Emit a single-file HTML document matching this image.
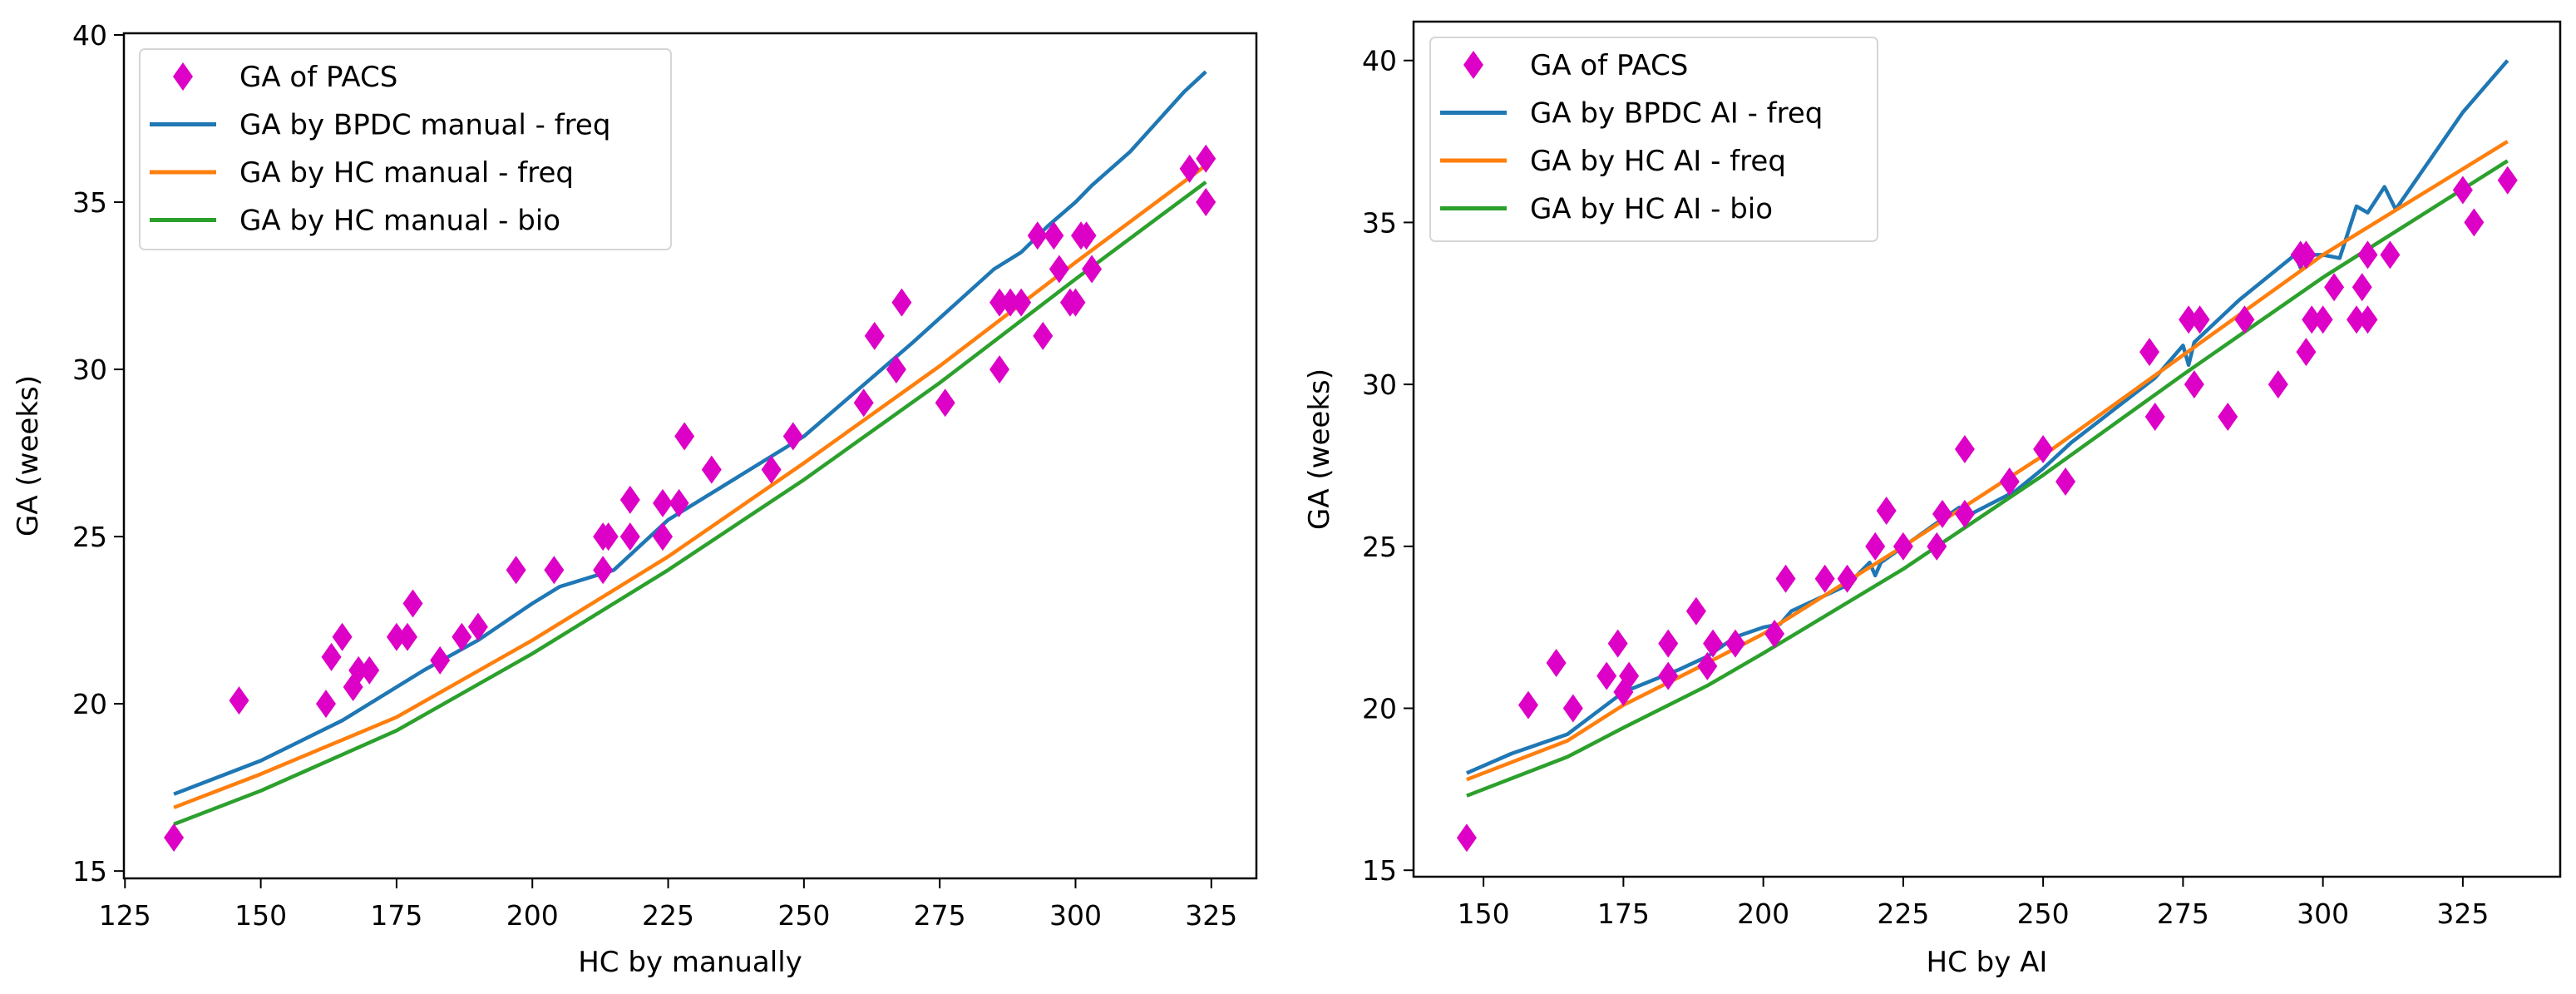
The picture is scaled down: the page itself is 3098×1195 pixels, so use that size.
<!DOCTYPE html>
<html><head><meta charset="utf-8"><style>
html,body{margin:0;padding:0;background:#fff}
svg{display:block}
text{font-family:"DejaVu Sans","Liberation Sans",sans-serif;fill:#000}
</style></head><body>
<svg id="chart" width="3098" height="1195" viewBox="0 0 3098 1195" xmlns="http://www.w3.org/2000/svg"></svg>
<script>
// ---- Left panel data ----
const leftPtsX = [134,146,162,163,165,167,168,170,175,177,178,183,187,190,197,204,213,214,213,218,218,224,224,227,228,233,244,248,261,263,267,268,276,286,286,288,290,293,294,296,297,299,300,301,302,303,321,324,324];
const leftPtsY = [16,20.1,20,21.4,22,20.5,21,21,22,22,23,21.3,22,22.3,24,24,25,25,24,26.1,25,26,25,26,28,27,27,28,29,31,30,32,29,30,32,32,32,34,31,34,33,32,32,34,34,33,36,36.3,35];
const leftBlueX = [134,150,165,180,190,200,205,215,225,250,270,285,290,295,300,303,310,320,324];
const leftBlueY = [17.3,18.3,19.5,21,21.9,23,23.5,24,25.5,28,30.8,33,33.5,34.3,35,35.5,36.5,38.3,38.9];
const leftOrangeX = [134,150,175,200,225,250,275,300,324];
const leftOrangeY = [16.9,17.9,19.6,21.9,24.4,27.2,30.1,33.2,36.1];
const leftGreenX = [134,150,175,200,225,250,275,300,324];
const leftGreenY = [16.4,17.4,19.2,21.5,24,26.7,29.6,32.7,35.6];
const leftXTicks = [125,150,175,200,225,250,275,300,325];
const yTicks = [15,20,25,30,35,40];
// ---- Right panel data ----
const rightPtsX = [147,158,163,166,172,174,175,176,183,183,188,190,191,195,202,204,211,215,220,222,225,231,232,236,236,244,250,254,269,270,276,277,278,283,286,292,296,297,297,298,300,302,306,307,308,308,312,325,327,333];
const rightPtsY = [16,20.1,21.4,20,21,22,20.5,21,22,21,23,21.3,22,22,22.3,24,24,24,25,26.1,25,25,26,26,28,27,28,27,31,29,32,30,32,29,32,30,34,31,34,32,32,33,32,33,34,32,34,36,35,36.3];
const rightBlueX = [147,155,165,175,185,190,195,200,203,205,215,219,220,221,230,235,236,245,250,255,270,275,276,277,285,295,296,297,300,303,306,308,311,313,325,333];
const rightBlueY = [18,18.6,19.2,20.5,21.2,21.6,22.2,22.5,22.6,23,23.8,24.5,24.1,24.5,25.6,26.2,25.9,26.7,27.4,28.2,30.2,31.2,30.6,31.3,32.6,34,33.6,34,34,33.9,35.5,35.3,36.1,35.4,38.4,40];
const rightOrangeX = [147,165,175,190,200,225,250,275,300,333];
const rightOrangeY = [17.8,19.0,20.1,21.4,22.3,25,27.8,30.9,34,37.5];
const rightGreenX = [147,165,175,190,200,225,250,275,300,333];
const rightGreenY = [17.3,18.5,19.4,20.7,21.7,24.3,27.2,30.3,33.3,36.9];
const rightXTicks = [150,175,200,225,250,275,300,325];

const NS = "http://www.w3.org/2000/svg";
const svg = document.getElementById('chart');
function mk(tag, attrs, parent){const e=document.createElementNS(NS,tag);for(const k in attrs)e.setAttribute(k,attrs[k]);(parent||svg).appendChild(e);return e;}

function panel(cfg){
  const g = mk('g',{});
  
  
  const sx = v => cfg.L + (v - cfg.xmin)/(cfg.xmax - cfg.xmin)*(cfg.R - cfg.L);
  const sy = v => cfg.B - (v - cfg.ymin)/(cfg.ymax - cfg.ymin)*(cfg.B - cfg.T);
  const series = [[cfg.bx,cfg.by,'#1f77b4','blue-line'],[cfg.ox,cfg.oy,'#ff7f0e','orange-line'],[cfg.gx,cfg.gy,'#2ca02c','green-line']];
  series.forEach(s=>{
    const d = s[0].map((x,i)=>(i?'L':'M')+sx(x).toFixed(1)+' '+sy(s[1][i]).toFixed(1)).join(' ');
    const p = mk('path',{d:d,fill:'none',stroke:s[2],'stroke-width':4.5,'stroke-linejoin':'round'},g);
    
    
  });
  cfg.px.forEach((x,i)=>{
    const cx=sx(x), cy=sy(cfg.py[i]);
    const p = mk('path',{d:`M${cx} ${cy-17} L${cx+12} ${cy} L${cx} ${cy+17} L${cx-12} ${cy} Z`,fill:'#dd00c6'},g);
    
    
  });
  const fr = mk('rect',{x:cfg.L,y:cfg.T,width:cfg.R-cfg.L,height:cfg.B-cfg.T,fill:'none',stroke:'#000','stroke-width':2.5},g);
  
  
  cfg.xt.forEach(v=>{
    const x=sx(v);
    mk('line',{x1:x,y1:cfg.B,x2:x,y2:cfg.B+12,stroke:'#000','stroke-width':2},g);
    const t = mk('text',{x:x,y:cfg.B+56,'text-anchor':'middle','font-size':33},g);
    t.textContent=v;
    
    
  });
  yTicks.forEach(v=>{
    const y=sy(v);
    mk('line',{x1:cfg.L-12,y1:y,x2:cfg.L,y2:y,stroke:'#000','stroke-width':2},g);
    const t = mk('text',{x:cfg.L-20,y:y+12,'text-anchor':'end','font-size':33},g);
    t.textContent=v;
    
    
  });
  const xl = mk('text',{x:(cfg.L+cfg.R)/2,y:1168,'text-anchor':'middle','font-size':34},g);
  xl.textContent = cfg.xlabel;
  
  
  const yc=(cfg.T+cfg.B)/2;
  const yl = mk('text',{x:cfg.ylx,y:yc,'text-anchor':'middle','font-size':34,transform:`rotate(-90 ${cfg.ylx} ${yc})`},g);
  yl.textContent = 'GA (weeks)';
  
  
  const lg = mk('g',{},g);
  
  
  mk('rect',{x:cfg.lgx,y:cfg.lgy,width:cfg.lgw,height:cfg.lgh,rx:6,fill:'#fff','fill-opacity':0.8,stroke:'#d6d6d6','stroke-width':2},lg);
  cfg.labels.forEach((lab,i)=>{
    const cy = cfg.lgy + 33 + i*57.5;
    const hx = cfg.lgx + 12;
    if(i===0){
      const cx=hx+40;
      mk('path',{d:`M${cx} ${cy-17} L${cx+12} ${cy} L${cx} ${cy+17} L${cx-12} ${cy} Z`,fill:'#dd00c6'},lg);
    } else {
      mk('line',{x1:hx,y1:cy,x2:hx+80,y2:cy,stroke:['','#1f77b4','#ff7f0e','#2ca02c'][i],'stroke-width':5},lg);
    }
    const t = mk('text',{x:cfg.lgx+120,y:cy+12,'font-size':34},lg);
    t.textContent = lab;
    
    
  });
}

panel({name:'left-panel',L:149,R:1511,T:40,B:1056,xmin:124.8,xmax:333.3,ymin:14.78,ymax:40.05,
  px:leftPtsX,py:leftPtsY,bx:leftBlueX,by:leftBlueY,ox:leftOrangeX,oy:leftOrangeY,gx:leftGreenX,gy:leftGreenY,
  xt:leftXTicks,xlabel:'HC by manually',ylx:45,lgx:168,lgy:59,lgw:639,lgh:241,
  labels:['GA of PACS','GA by BPDC manual - freq','GA by HC manual - freq','GA by HC manual - bio']});
panel({name:'right-panel',L:1700,R:3079,T:26,B:1054,xmin:137.5,xmax:342.4,ymin:14.8,ymax:41.2,
  px:rightPtsX,py:rightPtsY,bx:rightBlueX,by:rightBlueY,ox:rightOrangeX,oy:rightOrangeY,gx:rightGreenX,gy:rightGreenY,
  xt:rightXTicks,xlabel:'HC by AI',ylx:1598,lgx:1720,lgy:45,lgw:538,lgh:245,
  labels:['GA of PACS','GA by BPDC AI - freq','GA by HC AI - freq','GA by HC AI - bio']});
</script>
</body></html>
